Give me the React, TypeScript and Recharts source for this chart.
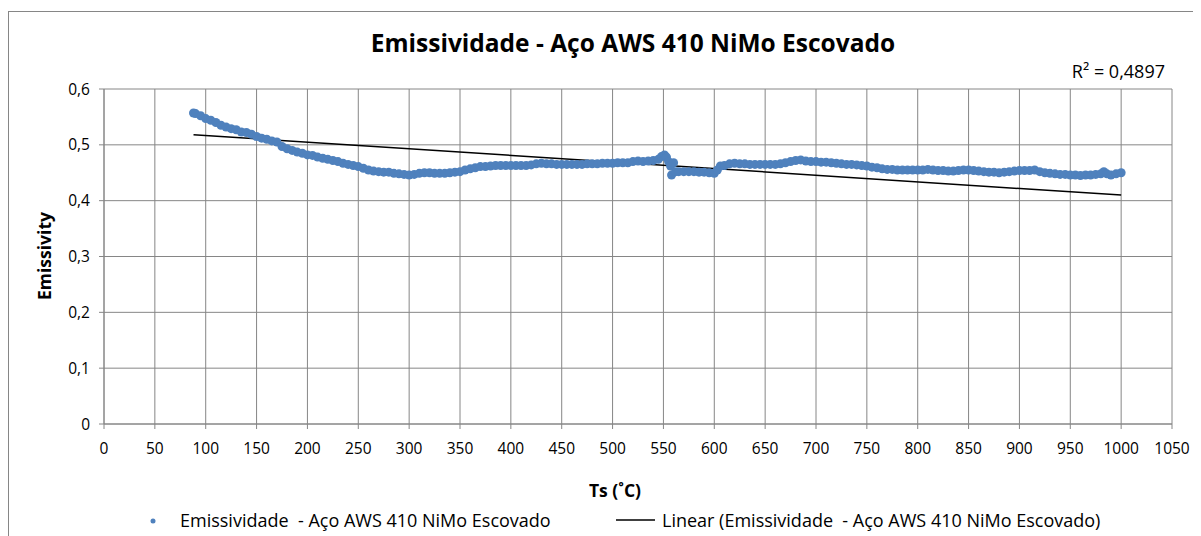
import React from 'react';
import { ScatterChart, Scatter, XAxis, YAxis, CartesianGrid, ReferenceLine } from 'recharts';

const temps = [
  88, 90, 95, 100, 105, 110, 115, 120, 125, 130, 135, 140, 145, 150, 155, 160, 165, 170, 175, 180,
  185, 190, 195, 200, 205, 210, 215, 220, 225, 230, 235, 240, 245, 250, 255, 260, 265, 270, 275, 280,
  285, 290, 295, 300, 305, 310, 315, 320, 325, 330, 335, 340, 345, 350, 355, 360, 365, 370, 375, 380,
  385, 390, 395, 400, 405, 410, 415, 420, 425, 430, 435, 440, 445, 450, 455, 460, 465, 470, 475, 480,
  485, 490, 495, 500, 505, 510, 515, 520, 525, 530, 535, 540, 545, 548, 551, 553, 555, 557, 558, 560,
  562, 565, 570, 575, 580, 585, 590, 595, 600, 603, 606, 610, 615, 620, 625, 630, 635, 640, 645, 650,
  655, 660, 665, 670, 675, 680, 685, 690, 695, 700, 705, 710, 715, 720, 725, 730, 735, 740, 745, 750,
  755, 760, 765, 770, 775, 780, 785, 790, 795, 800, 805, 810, 815, 820, 825, 830, 835, 840, 845, 850,
  855, 860, 865, 870, 875, 880, 885, 890, 895, 900, 905, 910, 915, 920, 925, 930, 935, 940, 945, 950,
  955, 960, 965, 970, 975, 980, 983, 986, 990, 995, 1000,
];

const emissivity = [
  0.557, 0.556, 0.552, 0.547, 0.544, 0.540, 0.535, 0.532, 0.529, 0.527, 0.523, 0.522, 0.519, 0.515, 0.512, 0.510, 0.507, 0.505, 0.497, 0.493,
  0.490, 0.487, 0.485, 0.482, 0.481, 0.478, 0.476, 0.474, 0.472, 0.470, 0.467, 0.465, 0.463, 0.461, 0.458, 0.455, 0.453, 0.452, 0.451, 0.451,
  0.449, 0.448, 0.447, 0.446, 0.447, 0.449, 0.450, 0.450, 0.449, 0.449, 0.449, 0.450, 0.451, 0.452, 0.455, 0.457, 0.459, 0.461, 0.461, 0.462,
  0.463, 0.463, 0.463, 0.463, 0.463, 0.463, 0.463, 0.464, 0.466, 0.467, 0.466, 0.466, 0.465, 0.465, 0.465, 0.465, 0.465, 0.465, 0.466, 0.466,
  0.466, 0.467, 0.467, 0.467, 0.468, 0.468, 0.468, 0.470, 0.471, 0.470, 0.471, 0.472, 0.474, 0.479, 0.482, 0.478, 0.470, 0.462, 0.446, 0.468,
  0.452, 0.452, 0.452, 0.452, 0.452, 0.451, 0.451, 0.450, 0.449, 0.455, 0.462, 0.463, 0.466, 0.467, 0.466, 0.466, 0.465, 0.465, 0.465, 0.465,
  0.465, 0.465, 0.466, 0.468, 0.470, 0.472, 0.473, 0.471, 0.470, 0.470, 0.469, 0.469, 0.468, 0.467, 0.466, 0.465, 0.465, 0.464, 0.463, 0.462,
  0.460, 0.459, 0.457, 0.456, 0.456, 0.455, 0.455, 0.455, 0.455, 0.455, 0.455, 0.456, 0.455, 0.454, 0.454, 0.453, 0.453, 0.454, 0.455, 0.455,
  0.454, 0.453, 0.452, 0.451, 0.451, 0.450, 0.451, 0.452, 0.453, 0.454, 0.454, 0.454, 0.455, 0.452, 0.450, 0.449, 0.448, 0.447, 0.447, 0.446,
  0.446, 0.445, 0.446, 0.446, 0.447, 0.448, 0.452, 0.448, 0.446, 0.448, 0.450,
];

const trendTemps = [88, 1000];
const trendValues = [0.518, 0.41];

const xTicks = [0, 50, 100, 150, 200, 250, 300, 350, 400, 450, 500, 550, 600, 650, 700, 750, 800, 850, 900, 950, 1000, 1050];
const yTicks = [0, 0.1, 0.2, 0.3, 0.4, 0.5, 0.6];

const chartTitle = 'Emissividade - Aço AWS 410 NiMo Escovado';
const rSquaredText = 'R² = 0,4897';
const xAxisTitle = 'Ts (˚C)';
const yAxisTitle = 'Emissivity';
const seriesName = 'Emissividade  - Aço AWS 410 NiMo Escovado';
const trendName = 'Linear (Emissividade  - Aço AWS 410 NiMo Escovado)';

const FONT = "'Open Sans', 'Noto Sans', sans-serif";
const GRID = '#868686';
const BLUE = '#4F81BD';

const points = temps.map((t, i) => ({ t, e: emissivity[i] }));

const fmtY = (v: number) => (v === 0 ? '0' : v.toFixed(1).replace('.', ','));

const Dot = (props: any) => {
  const { cx, cy } = props;
  if (cx == null || cy == null) return null;
  return <circle cx={cx} cy={cy} r={4.5} fill={BLUE} />;
};

export default function App() {
  return (
    <div
      style={{
        position: 'relative',
        top: 3,
        width: 1230,
        height: 540,
        border: `1px solid ${GRID}`,
        background: '#fff',
      }}
    >
      <ScatterChart
        width={1200}
        height={525}
        margin={{ top: 77, right: 37, left: 0, bottom: 83 }}
      >
        <CartesianGrid stroke={GRID} strokeWidth={1} />
        <XAxis
          type="number"
          dataKey="t"
          domain={[0, 1050]}
          ticks={xTicks}
          interval={0}
          height={30}
          stroke={GRID}
          tickSize={5}
          tickMargin={14}
          tick={{ fontFamily: FONT, fontSize: 15.5, fill: '#000' }}
          allowDataOverflow
        />
        <YAxis
          type="number"
          dataKey="e"
          domain={[0, 0.6]}
          ticks={yTicks}
          interval={0}
          width={95}
          stroke={GRID}
          tickSize={5}
          tickMargin={9}
          tickFormatter={fmtY}
          tick={{ fontFamily: FONT, fontSize: 15.5, fill: '#000' }}
          allowDataOverflow
        />
        <Scatter data={points} shape={<Dot />} isAnimationActive={false} />
        <ReferenceLine
          segment={[
            { x: trendTemps[0], y: trendValues[0] },
            { x: trendTemps[1], y: trendValues[1] },
          ]}
          stroke="#000"
          strokeWidth={1.5}
        />
      </ScatterChart>
      <svg
        width={1200}
        height={530}
        style={{ position: 'absolute', left: 0, top: 0, pointerEvents: 'none' }}
      >
        <text x={624} y={40} textAnchor="middle" fontFamily={FONT} fontWeight={700} fontSize={24.5} fill="#000">
          {chartTitle}
        </text>
        <text x={1156} y={66} textAnchor="end" fontFamily={FONT} fontSize={18} fill="#000">
          {rSquaredText}
        </text>
        <text
          x={42}
          y={244}
          textAnchor="middle"
          transform="rotate(-90 42 244)"
          fontFamily={FONT}
          fontWeight={700}
          fontSize={17.5}
          fill="#000"
        >
          {yAxisTitle}
        </text>
        <text x={606} y={485} textAnchor="middle" fontFamily={FONT} fontWeight={700} fontSize={17.5} fill="#000">
          {xAxisTitle}
        </text>
        <circle cx={144} cy={509} r={2.5} fill={BLUE} />
        <text x={171} y={515} fontFamily={FONT} fontSize={18} fill="#000" style={{ whiteSpace: 'pre' }}>
          {seriesName}
        </text>
        <line x1={607} y1={508} x2={646} y2={508} stroke="#000" strokeWidth={1.5} />
        <text x={653} y={515} fontFamily={FONT} fontSize={18} fill="#000" style={{ whiteSpace: 'pre' }}>
          {trendName}
        </text>
      </svg>
    </div>
  );
}
